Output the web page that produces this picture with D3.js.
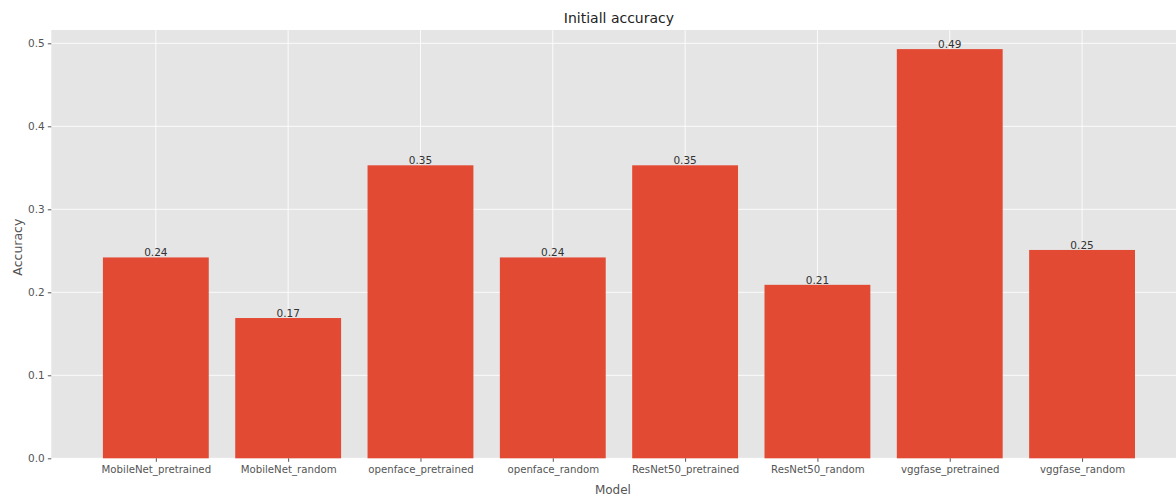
<!DOCTYPE html>
<html>
<head>
<meta charset="utf-8">
<script src="https://cdn.jsdelivr.net/npm/d3@7"></script>
<style>
  html, body { margin: 0; padding: 0; background: #fff; }
  svg { display: block; font-family: "DejaVu Sans", sans-serif; }
</style>
</head>
<body>
<svg id="chart" width="1176" height="496"></svg>
<script>
// Initial accuracy per model
const models = ["MobileNet_pretrained", "MobileNet_random", "openface_pretrained", "openface_random",
                "ResNet50_pretrained", "ResNet50_random", "vggfase_pretrained", "vggfase_random"];
const accuracy = [0.242, 0.169, 0.353, 0.242, 0.353, 0.209, 0.493, 0.251];
const yTicks = [0.0, 0.1, 0.2, 0.3, 0.4, 0.5];

const svg = d3.select("#chart");

// plot frame
const plotLeft = 51.3, plotRight = 1186.6, plotTop = 30, plotBottom = 458.3;

const x = d3.scaleLinear().domain([-0.79, models.length - 1 + 0.79]).range([plotLeft, plotRight]);
const y = d3.scaleLinear().domain([0, 0.5]).range([plotBottom, 43.3]);
const barW = x(0.8) - x(0);

// background panel
svg.append("rect")
  .attr("x", plotLeft).attr("y", plotTop)
  .attr("width", plotRight - plotLeft).attr("height", plotBottom - plotTop)
  .attr("fill", "#e5e5e5");

// grid
const grid = svg.append("g").attr("stroke", "#ffffff").attr("stroke-width", 1).attr("stroke-opacity", 0.85);
grid.selectAll("line.h").data(yTicks).join("line")
  .attr("class", "h")
  .attr("x1", plotLeft).attr("x2", plotRight)
  .attr("y1", d => y(d)).attr("y2", d => y(d));
grid.selectAll("line.v").data(models.map((_, i) => i)).join("line")
  .attr("class", "v")
  .attr("x1", d => x(d)).attr("x2", d => x(d))
  .attr("y1", plotTop).attr("y2", plotBottom);

// bars
svg.append("g").selectAll("rect").data(accuracy).join("rect")
  .attr("x", (d, i) => x(i) - barW / 2)
  .attr("y", d => y(d))
  .attr("width", barW)
  .attr("height", d => y(0) - y(d))
  .attr("fill", "#e24a33");

// value labels
const fmt = d3.format(".2f");
svg.append("g").selectAll("text").data(accuracy).join("text")
  .attr("x", (d, i) => x(i))
  .attr("y", d => y(d) - 1)
  .attr("text-anchor", "middle")
  .attr("font-size", 10.5)
  .attr("fill", "#333")
  .text(d => fmt(d));

// y axis
const yAxis = d3.axisLeft(y).tickValues(yTicks).tickFormat(d3.format(".1f")).tickSize(3.5).tickPadding(3);
const gy = svg.append("g").attr("transform", `translate(${plotLeft},0)`).call(yAxis);
gy.select(".domain").remove();
gy.selectAll(".tick line").attr("stroke", "#555");
gy.selectAll(".tick text").attr("fill", "#555").attr("font-size", 10.5).attr("font-family", "DejaVu Sans");

// x axis
const xAxis = d3.axisBottom(x).tickValues(models.map((_, i) => i)).tickFormat(i => models[i]).tickSize(3.5).tickPadding(4);
const gx = svg.append("g").attr("transform", `translate(0,${plotBottom})`).call(xAxis);
gx.select(".domain").remove();
gx.selectAll(".tick line").attr("stroke", "#555");
gx.selectAll(".tick text").attr("fill", "#555").attr("font-size", 10.2).attr("font-family", "DejaVu Sans");

// titles
svg.append("text")
  .attr("x", (plotLeft + plotRight) / 2).attr("y", 23)
  .attr("text-anchor", "middle")
  .attr("font-size", 14).attr("fill", "#222")
  .text("Initiall accuracy");

svg.append("text")
  .attr("x", (plotLeft + plotRight) / 2 - 6).attr("y", 494)
  .attr("text-anchor", "middle")
  .attr("font-size", 12).attr("fill", "#555")
  .text("Model");

svg.append("text")
  .attr("transform", `translate(22,${(plotTop + plotBottom) / 2 + 3}) rotate(-90)`)
  .attr("text-anchor", "middle")
  .attr("font-size", 12.5).attr("fill", "#555")
  .text("Accuracy");
</script>
</body>
</html>
